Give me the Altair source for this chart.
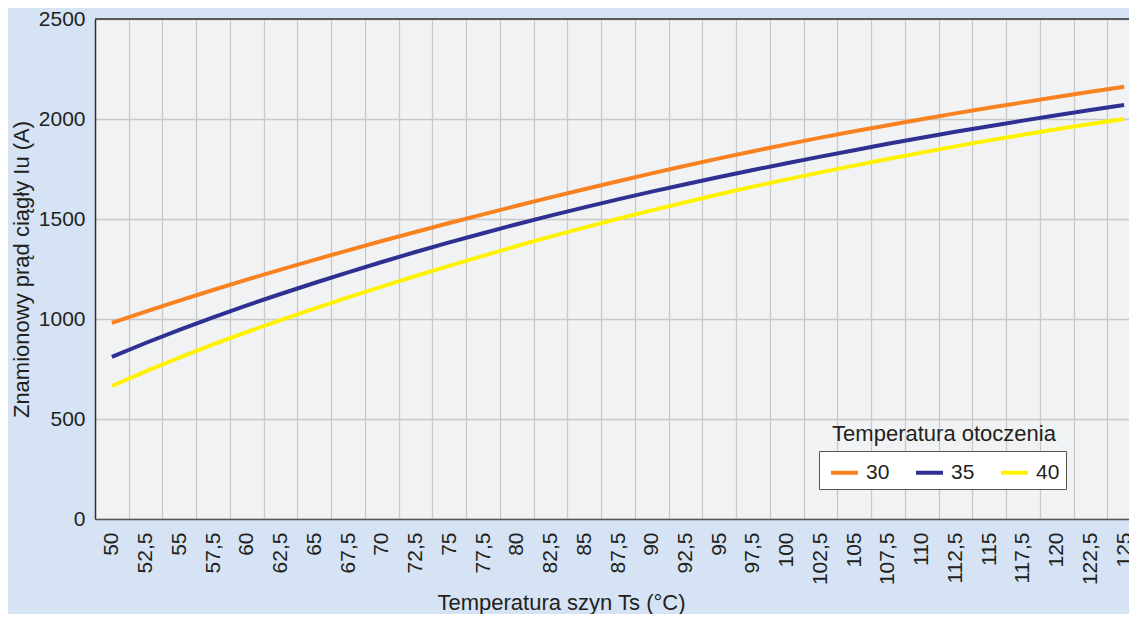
import altair as alt
import pandas as pd

# Bus temperature categories (x axis labels, Polish decimal comma)
ts_labels = ["50", "52,5", "55", "57,5", "60", "62,5", "65", "67,5", "70", "72,5",
             "75", "77,5", "80", "82,5", "85", "87,5", "90", "92,5", "95", "97,5",
             "100", "102,5", "105", "107,5", "110", "112,5", "115", "117,5", "120",
             "122,5", "125"]

# Rated continuous current (A) for ambient temperatures 30, 35, 40 °C
i_30 = [981, 1037, 1092, 1145, 1197, 1247, 1296, 1343, 1390, 1435, 1480, 1523, 1566,
        1608, 1649, 1689, 1728, 1766, 1803, 1839, 1873, 1907, 1939, 1969, 1999, 2028,
        2056, 2083, 2110, 2136, 2161]
i_35 = [811, 880, 946, 1008, 1068, 1125, 1180, 1233, 1285, 1335, 1383, 1429, 1474,
        1517, 1558, 1598, 1637, 1674, 1710, 1745, 1779, 1812, 1844, 1876, 1906, 1936,
        1964, 1992, 2019, 2045, 2070]
i_40 = [665, 738, 807, 873, 935, 994, 1052, 1108, 1162, 1215, 1266, 1316, 1365,
        1412, 1457, 1501, 1543, 1584, 1624, 1662, 1698, 1733, 1767, 1800, 1832, 1863,
        1893, 1921, 1949, 1975, 2000]

series_names = ["30", "35", "40"]
series_colors = ["#f7821f", "#2e3192", "#fff200"]
y_ticks = [0, 500, 1000, 1500, 2000, 2500]
y_domain = [0, 2500]

rows = []
for name, vals in zip(series_names, [i_30, i_35, i_40]):
    for t, v in zip(ts_labels, vals):
        rows.append({"Ts": t, "I": v, "Ta": name})
df = pd.DataFrame(rows)

FONT = "Liberation Sans"
TXT = "#231f20"
PLOT_W = 1034
PLOT_H = 500

x_enc = alt.X(
    "Ts:N",
    sort=ts_labels,
    # the reference plot area runs past the right edge of the picture
    scale=alt.Scale(type="band", paddingInner=0, paddingOuter=0, range=[0, 1046]),
    title="Temperatura szyn Ts (°C)",
    axis=alt.Axis(
        labelAngle=-90, labelFontSize=21, labelFont=FONT, labelColor=TXT,
        labelPadding=13, ticks=False, tickBand="extent", grid=True,
        gridColor="#c8c8c8", gridWidth=1.3,
        domainColor="#555555", domainWidth=1.5,
        titleFont=FONT, titleFontSize=22, titleFontWeight="normal", titleColor=TXT,
        titleX=466, titleY=90, titleAlign="center", titleBaseline="alphabetic",
    ),
)

y_scale = alt.Scale(domain=y_domain, nice=False)

y_enc = alt.Y(
    "I:Q",
    scale=y_scale,
    title="Znamionowy prąd ciągły Iu (A)",
    axis=alt.Axis(
        values=y_ticks, format="d", labelFontSize=21, labelFont=FONT, labelColor=TXT,
        labelPadding=10, ticks=False, grid=True, gridColor="#c8c8c8", gridWidth=1.3,
        domainColor="#333333", domainWidth=1.5,
        titleFont=FONT, titleFontSize=22, titleFontWeight="normal", titleColor=TXT,
        titlePadding=5,
    ),
)

lines = alt.Chart(df).mark_line(strokeWidth=4).encode(
    x=x_enc,
    y=y_enc,
    color=alt.Color(
        "Ta:N",
        scale=alt.Scale(domain=series_names, range=series_colors),
        legend=alt.Legend(
            title=None, orient="none", legendX=724, legendY=432,
            direction="horizontal", fillColor="white", strokeColor="#555555",
            padding=6, symbolType="stroke", symbolSize=729, symbolStrokeWidth=4,
            symbolOffset=4, labelFontSize=21, labelFont=FONT, labelColor=TXT,
            labelOffset=6, columnPadding=18,
        ),
    ),
)

top_rule = alt.Chart(pd.DataFrame({"y": [y_domain[1]]})).mark_rule(
    color="#333333", strokeWidth=1.5
).encode(y=alt.Y("y:Q", scale=y_scale))

legend_title = alt.Chart(pd.DataFrame({"t": ["Temperatura otoczenia"]})).mark_text(
    font=FONT, fontSize=22, color=TXT, align="center", baseline="alphabetic"
).encode(x=alt.value(849), y=alt.value(422), text="t:N")

chart = alt.layer(lines, top_rule, legend_title).properties(
    width=PLOT_W,
    height=PLOT_H,
    padding={"left": 87, "top": 11, "right": 0, "bottom": 95},
    autosize=alt.AutoSizeParams(type="none"),
    background="#d5e3f4",
).configure_view(fill="#f1f2f4", strokeWidth=0)

chart.save("out.html", embed_options={"renderer": "svg", "actions": False})
